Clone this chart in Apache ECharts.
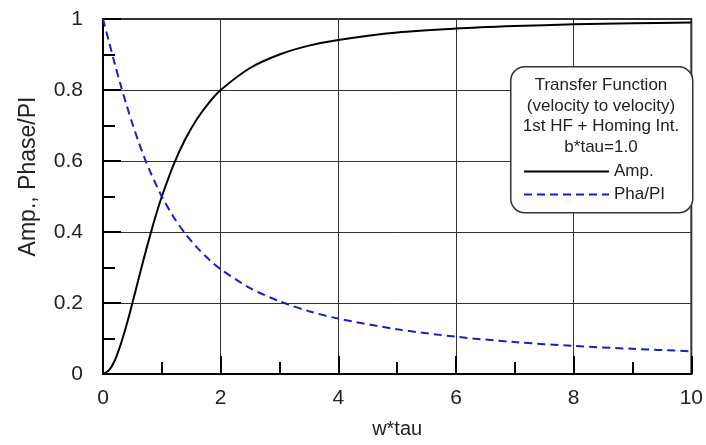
<!DOCTYPE html>
<html>
<head>
<meta charset="utf-8">
<script src="https://cdn.jsdelivr.net/npm/echarts@6/dist/echarts.min.js"></script>
<style>html,body{margin:0;padding:0;background:#fff}#c{width:706px;height:445px}</style>
</head>
<body>
<div id="c"></div>
<script>
var wTau = [0,0.1,0.2,0.3,0.4,0.5,0.6,0.7,0.8,0.9,1.0,1.2,1.4,1.6,1.8,2.0,2.5,3,3.5,4,5,6,7,8,9,10];
var amp = [0,0.01,0.038,0.083,0.138,0.2,0.265,0.329,0.39,0.448,0.5,0.59,0.662,0.719,0.764,0.8,0.862,0.9,0.925,0.941,0.962,0.973,0.98,0.985,0.988,0.99];
var phaPi = [1,0.937,0.874,0.814,0.758,0.705,0.656,0.611,0.571,0.534,0.5,0.442,0.395,0.356,0.323,0.295,0.242,0.205,0.177,0.156,0.126,0.105,0.09,0.079,0.071,0.064];
var legendTitle = ['Transfer Function','(velocity to velocity)','1st HF + Homing Int.','b*tau=1.0'];
var seriesNames = ['Amp.','Pha/PI'];

function pairs(xs, ys){ return xs.map(function(x,i){return [x, ys[i]];}); }

var chart = echarts.init(document.getElementById('c'), null, {renderer:'canvas'});
var font = 'Liberation Sans, Arial, sans-serif';
chart.setOption({
  animation:false,
  backgroundColor:'#fff',
  grid:{left:103,right:13,top:19,bottom:71,show:true,borderColor:'#333',borderWidth:2},
  xAxis:{type:'value',min:0,max:10,interval:2,
    name:'w*tau',nameLocation:'middle',nameGap:45,
    nameTextStyle:{fontFamily:font,fontSize:20,color:'#222'},
    axisLine:{lineStyle:{color:'#000',width:2}},
    axisTick:{inside:true,length:18,lineStyle:{color:'#000',width:2}},
    minorTick:{show:true,splitNumber:2,length:12,lineStyle:{color:'#000',width:2}},
    splitLine:{show:true,lineStyle:{color:'#333',width:1}},
    axisLabel:{fontFamily:font,fontSize:21,color:'#222',margin:14}
  },
  yAxis:{type:'value',min:0,max:1,interval:0.2,
    name:'Amp., Phase/PI',nameLocation:'middle',nameGap:63,
    nameTextStyle:{fontFamily:font,fontSize:23,color:'#222',padding:[0,0,0,40]},
    axisLine:{show:true,lineStyle:{color:'#000',width:2}},
    axisTick:{show:true,inside:true,length:18,lineStyle:{color:'#000',width:2}},
    minorTick:{show:true,splitNumber:2,length:12,lineStyle:{color:'#000',width:2}},
    splitLine:{show:true,lineStyle:{color:'#333',width:1}},
    axisLabel:{fontFamily:font,fontSize:21,color:'#222',margin:20}
  },
  legend:{
    orient:'vertical',left:518,top:158,itemWidth:85,itemHeight:14,itemGap:6,z:20,
    itemStyle:{opacity:0},
    textStyle:{fontFamily:font,fontSize:17,color:'#222'},
    data:seriesNames
  },
  graphic:[
    {type:'rect',left:510,top:66,z:10,shape:{width:182,height:146,r:14},
     style:{fill:'#fff',stroke:'#333',lineWidth:1.5}},
    {type:'text',x:601,y:75,z:11,style:{text:legendTitle.join('\n'),font:'17px '+font,fill:'#222',align:'center',lineHeight:20.7}}
  ],
  series:[
    {name:seriesNames[0],type:'line',data:pairs(wTau,amp),smooth:0.3,symbol:'none',z:5,
     lineStyle:{color:'#000',width:2},itemStyle:{color:'#000'}},
    {name:seriesNames[1],type:'line',data:pairs(wTau,phaPi),smooth:0.3,symbol:'none',z:5,
     lineStyle:{color:'#1b1bc8',width:2,type:[8,5]},itemStyle:{color:'#1b1bc8'}}
  ]
});
</script>
</body>
</html>
